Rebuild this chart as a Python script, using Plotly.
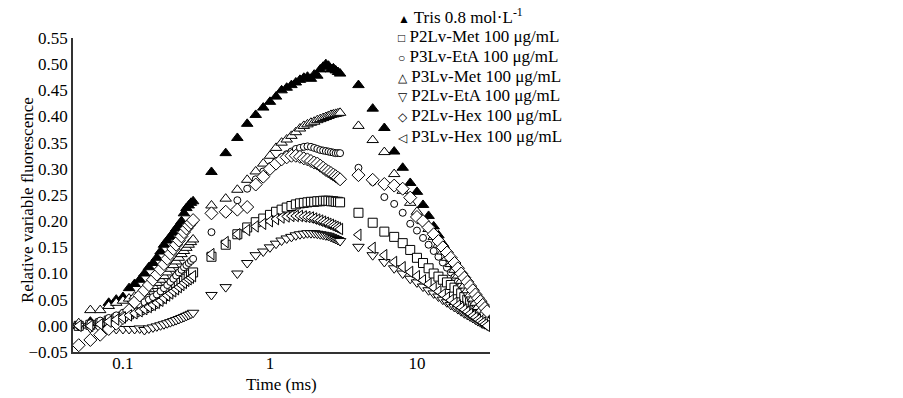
import plotly.graph_objects as go

# Time points (ms)
time_ms = [0.05, 0.06, 0.07, 0.08, 0.09, 0.10, 0.11, 0.12, 0.13, 0.14, 0.15, 0.16, 0.17,
           0.18, 0.19, 0.20, 0.21, 0.22, 0.23, 0.24, 0.25, 0.26, 0.27, 0.28, 0.29, 0.30,
           0.4, 0.5, 0.6, 0.7, 0.8, 0.9, 1.0, 1.1, 1.2, 1.3, 1.4, 1.5, 1.6, 1.7, 1.8, 1.9,
           2.0, 2.1, 2.2, 2.3, 2.4, 2.5, 2.6, 2.7, 2.8, 2.9, 3.0,
           4, 5, 6, 7, 8, 9, 10, 11, 12, 13, 14, 15, 16, 17, 18, 19, 20, 21, 22, 23, 24,
           25, 26, 27, 28, 29, 30]

tris = [0.000, 0.008, 0.002, 0.044, 0.050, 0.055, 0.072, 0.080, 0.088, 0.100, 0.112, 0.120, 0.130,
        0.142, 0.155, 0.163, 0.170, 0.178, 0.186, 0.192, 0.200, 0.215, 0.225, 0.230, 0.235, 0.238,
        0.294, 0.330, 0.359, 0.386, 0.403, 0.417, 0.428, 0.438, 0.450, 0.455, 0.460, 0.465, 0.470,
        0.474, 0.476, 0.472, 0.480, 0.478, 0.490, 0.495, 0.500, 0.497, 0.490, 0.492, 0.488, 0.485, 0.482,
        0.460, 0.415, 0.378, 0.333, 0.302, 0.273, 0.256, 0.231, 0.210, 0.190, 0.173, 0.157, 0.142,
        0.128, 0.116, 0.104, 0.093, 0.082, 0.072, 0.062, 0.053, 0.044, 0.035, 0.026, 0.018, 0.009, 0.001]

p2lv_met = [0.000, 0.002, 0.005, 0.010, 0.014, 0.018, 0.022, 0.026, 0.030, 0.034, 0.038, 0.042, 0.047,
            0.052, 0.057, 0.062, 0.066, 0.070, 0.074, 0.078, 0.082, 0.086, 0.090, 0.094, 0.098, 0.102,
            0.132, 0.155, 0.175, 0.188, 0.198, 0.205, 0.212, 0.218, 0.222, 0.226, 0.229, 0.232, 0.234,
            0.235, 0.236, 0.237, 0.237, 0.238, 0.238, 0.239, 0.239, 0.239, 0.238, 0.238, 0.237, 0.237, 0.236,
            0.216, 0.197, 0.180, 0.170, 0.158, 0.145, 0.130, 0.120, 0.110, 0.100, 0.094, 0.088, 0.083,
            0.078, 0.073, 0.068, 0.062, 0.055, 0.050, 0.045, 0.040, 0.034, 0.028, 0.022, 0.016, 0.010, 0.005]

p3lv_eta = [0.000, 0.005, 0.010, 0.015, 0.020, 0.025, 0.030, 0.035, 0.040, 0.045, 0.050, 0.055, 0.060,
            0.066, 0.072, 0.078, 0.084, 0.090, 0.096, 0.102, 0.107, 0.112, 0.116, 0.120, 0.124, 0.128,
            0.179, 0.215, 0.240, 0.262, 0.280, 0.295, 0.305, 0.315, 0.322, 0.328, 0.333, 0.338, 0.340,
            0.342, 0.343, 0.342, 0.340, 0.338, 0.336, 0.335, 0.334, 0.333, 0.332, 0.331, 0.330, 0.330, 0.330,
            0.302, 0.275, 0.246, 0.233, 0.216, 0.195, 0.182, 0.168, 0.155, 0.143, 0.132, 0.121, 0.111,
            0.102, 0.093, 0.085, 0.077, 0.069, 0.062, 0.055, 0.048, 0.041, 0.035, 0.028, 0.022, 0.016, 0.010]

p3lv_met = [0.005, 0.030, 0.030, 0.038, 0.044, 0.048, 0.052, 0.056, 0.060, 0.065, 0.070, 0.076, 0.082,
            0.088, 0.095, 0.102, 0.109, 0.116, 0.123, 0.130, 0.137, 0.143, 0.149, 0.155, 0.160, 0.165,
            0.230, 0.243, 0.260, 0.279, 0.295, 0.310, 0.325, 0.340, 0.350, 0.356, 0.363, 0.370, 0.377,
            0.382, 0.385, 0.388, 0.390, 0.393, 0.395, 0.397, 0.399, 0.401, 0.403, 0.404, 0.405, 0.406, 0.407,
            0.382, 0.355, 0.332, 0.290, 0.258, 0.235, 0.218, 0.200, 0.185, 0.170, 0.155, 0.142, 0.130,
            0.118, 0.107, 0.096, 0.086, 0.077, 0.068, 0.060, 0.052, 0.044, 0.036, 0.029, 0.022, 0.016, 0.010]

p2lv_eta = [0.000, -0.004, -0.005, -0.006, -0.006, -0.006, -0.006, -0.006, -0.005, -0.008, -0.005, -0.003, -0.001,
            0.001, 0.003, 0.005, 0.007, 0.009, 0.011, 0.013, 0.015, 0.017, 0.019, 0.021, 0.023, 0.025,
            0.059, 0.074, 0.100, 0.120, 0.135, 0.142, 0.150, 0.157, 0.163, 0.167, 0.170, 0.173, 0.175,
            0.176, 0.177, 0.177, 0.177, 0.176, 0.175, 0.174, 0.173, 0.172, 0.170, 0.168, 0.166, 0.164, 0.162,
            0.151, 0.135, 0.122, 0.110, 0.100, 0.090, 0.083, 0.075, 0.068, 0.062, 0.056, 0.050, 0.045,
            0.040, 0.036, 0.032, 0.028, 0.024, 0.021, 0.018, 0.015, 0.012, 0.009, 0.007, 0.005, 0.003, 0.001]

p2lv_hex = [-0.037, -0.027, -0.017, -0.006, 0.004, 0.015, 0.030, 0.045, 0.058, 0.068, 0.078, 0.088, 0.098,
            0.108, 0.118, 0.128, 0.138, 0.147, 0.155, 0.163, 0.171, 0.179, 0.186, 0.192, 0.197, 0.202,
            0.215, 0.218, 0.222, 0.227, 0.270, 0.285, 0.300, 0.310, 0.318, 0.322, 0.325, 0.325, 0.323,
            0.320, 0.318, 0.315, 0.312, 0.310, 0.306, 0.302, 0.298, 0.295, 0.292, 0.289, 0.286, 0.283, 0.280,
            0.288, 0.279, 0.271, 0.268, 0.262, 0.245, 0.208, 0.200, 0.188, 0.175, 0.162, 0.150, 0.140,
            0.130, 0.120, 0.110, 0.100, 0.092, 0.084, 0.076, 0.068, 0.060, 0.053, 0.047, 0.040, 0.034, 0.028]

p3lv_hex = [0.000, 0.000, 0.003, 0.008, 0.012, 0.016, 0.020, 0.024, 0.028, 0.032, 0.036, 0.040, 0.044,
            0.048, 0.053, 0.058, 0.062, 0.066, 0.070, 0.074, 0.078, 0.082, 0.086, 0.089, 0.092, 0.095,
            0.137, 0.160, 0.175, 0.183, 0.190, 0.195, 0.200, 0.204, 0.207, 0.209, 0.210, 0.210, 0.210,
            0.209, 0.208, 0.207, 0.205, 0.203, 0.201, 0.199, 0.197, 0.195, 0.193, 0.191, 0.189, 0.187, 0.185,
            0.174, 0.149, 0.135, 0.122, 0.112, 0.103, 0.095, 0.087, 0.080, 0.073, 0.066, 0.060, 0.054,
            0.049, 0.044, 0.039, 0.035, 0.031, 0.027, 0.023, 0.019, 0.016, 0.012, 0.009, 0.006, 0.003, 0.000]

series_names = ["Tris 0.8 mol·L<sup>-1</sup>", "P2Lv-Met 100 μg/mL", "P3Lv-EtA 100 μg/mL",
                "P3Lv-Met 100 μg/mL", "P2Lv-EtA 100 μg/mL", "P2Lv-Hex 100 μg/mL", "P3Lv-Hex 100 μg/mL"]
series_values = [tris, p2lv_met, p3lv_eta, p3lv_met, p2lv_eta, p2lv_hex, p3lv_hex]
symbols = ["triangle-up", "square", "circle", "triangle-up", "triangle-down", "diamond", "triangle-left"]
legend_glyphs = ["▲", "□", "○", "△", "▽", "◇", "◁"]
fills = ["black", "white", "white", "white", "white", "white", "white"]
sizes = [10, 9, 7, 10, 10, 10, 10]

x_ticks = [0.1, 1, 10]
x_ticktext = ["0.1", "1", "10"]

font_family = "Liberation Serif, Times New Roman, serif"

fig = go.Figure()
for name, vals, sym, fc, sz in zip(series_names, series_values, symbols, fills, sizes):
    fig.add_trace(go.Scatter(
        x=time_ms, y=vals, mode="markers", name=name, showlegend=False,
        marker=dict(symbol=sym, size=sz, color=fc, line=dict(color="black", width=1)),
    ))

# Figure geometry (body margin removed in the page, so figure fills the window)
W, H = 903, 398
ML, MR, MT, MB = 73, 413, 38, 46
pw, ph = W - ML - MR, H - MT - MB

annotations = []
# Legend drawn as text rows (glyph + label), as in the original figure
for i, (name, glyph) in enumerate(zip(series_names, legend_glyphs)):
    y_px = 16 + 20 * i
    annotations.append(dict(
        xref="paper", yref="paper",
        x=(396 - ML) / pw, y=(MT + ph - y_px) / ph,
        xanchor="left", yanchor="middle", showarrow=False,
        text=f"<span style='font-size:12px'>{glyph}</span> {name}",
        font=dict(family=font_family, size=17, color="black"),
    ))
# Axis titles
annotations.append(dict(
    xref="paper", yref="paper", x=(27 - ML) / pw, y=(MT + ph - 200) / ph,
    xanchor="center", yanchor="middle", showarrow=False, textangle=-90,
    text="Relative variable fluorescence",
    font=dict(family=font_family, size=17, color="black"),
))
annotations.append(dict(
    xref="paper", yref="paper", x=0.5, y=(MT + ph - 384) / ph,
    xanchor="center", yanchor="middle", showarrow=False,
    text="Time (ms)",
    font=dict(family=font_family, size=17, color="black"),
))

fig.update_layout(
    width=W, height=H,
    margin=dict(l=ML, r=MR, t=MT, b=MB, autoexpand=False),
    plot_bgcolor="white", paper_bgcolor="white",
    font=dict(family=font_family, size=17, color="black"),
    showlegend=False,
    annotations=annotations,
    xaxis=dict(type="log", range=[-1.34, 1.497], tickvals=x_ticks, ticktext=x_ticktext,
               showgrid=False, zeroline=False, showline=True, linecolor="#333", linewidth=1.5,
               ticks="", automargin=False, tickfont=dict(size=17), ticklabelstandoff=-5),
    yaxis=dict(range=[-0.05, 0.55], dtick=0.05, tick0=0, tickformat=".2f",
               showgrid=False, zeroline=False, showline=True, linecolor="#333", linewidth=1.5,
               ticks="", automargin=False, tickfont=dict(size=17)),
)

fig.write_html("out.html",
               config={"displayModeBar": False},
               post_script="document.body.style.margin='0';document.body.style.overflow='hidden';")
